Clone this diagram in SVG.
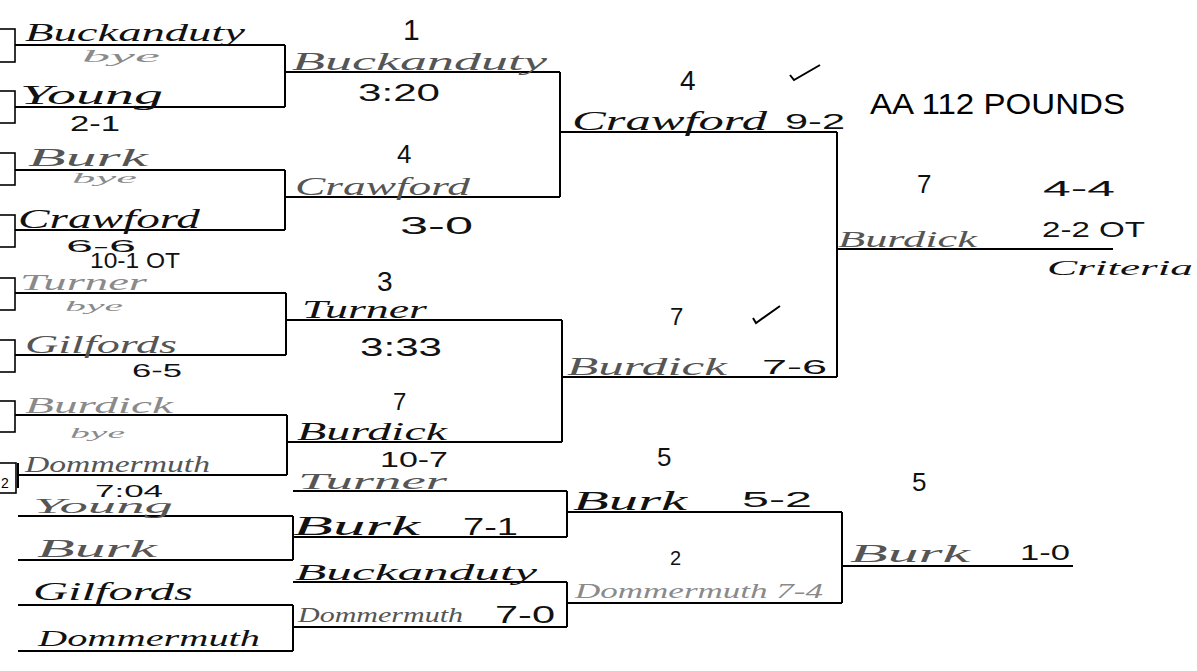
<svg xmlns="http://www.w3.org/2000/svg" width="1197" height="671" viewBox="0 0 1197 671">
<style>
.ln{stroke:#000;stroke-width:2;fill:none}
.bx{stroke:#000;stroke-width:1.6;fill:none}
.h{font-family:"Liberation Serif",serif;font-style:italic;fill:#111}
.f{fill:#8a8a8a}
.m{fill:#555}
.d{font-family:"Liberation Sans",Arial,sans-serif;fill:#111}
.t{font-family:"Liberation Sans",Arial,sans-serif;fill:#000}
</style>
<rect width="1197" height="671" fill="#fff"/>
<g id="boxes">
<rect class="bx" x="-10" y="29" width="25" height="33"/>
<rect class="bx" x="-10" y="91" width="25" height="32"/>
<rect class="bx" x="-10" y="153" width="25" height="32"/>
<rect class="bx" x="-10" y="215" width="25" height="32"/>
<rect class="bx" x="-10" y="278" width="25" height="32"/>
<rect class="bx" x="-10" y="340" width="25" height="32"/>
<rect class="bx" x="-10" y="401" width="25" height="31"/>
<rect class="bx" x="-10" y="463" width="26" height="30"/>
<text class="t" x="1" y="488" font-size="14">2</text>
</g>
<g id="r1-1"><line class="ln" x1="15" y1="45" x2="285" y2="45"/><text class="h" x="25" y="41" font-size="26" textLength="220" lengthAdjust="spacingAndGlyphs">Buckanduty</text><text class="h f" x="82" y="62" font-size="16" textLength="78" lengthAdjust="spacingAndGlyphs">bye</text></g>
<g id="r1-2"><line class="ln" x1="15" y1="107" x2="285" y2="107"/><text class="h" x="20" y="104" font-size="28" textLength="143" lengthAdjust="spacingAndGlyphs">Young</text><text class="d" x="70" y="131" font-size="22" textLength="50" lengthAdjust="spacingAndGlyphs">2-1</text></g>
<g id="r1-3"><line class="ln" x1="15" y1="170" x2="285" y2="170"/><text class="h m" x="28" y="166" font-size="26" textLength="120" lengthAdjust="spacingAndGlyphs">Burk</text><text class="h f" x="72" y="183" font-size="15" textLength="65" lengthAdjust="spacingAndGlyphs">bye</text></g>
<g id="r1-4"><line class="ln" x1="15" y1="230" x2="285" y2="230"/><text class="h" x="18" y="228" font-size="28" textLength="182" lengthAdjust="spacingAndGlyphs">Crawford</text><text class="d" x="66" y="252" font-size="17" textLength="70" lengthAdjust="spacingAndGlyphs">6-6</text><text class="d" x="90" y="268" font-size="22" textLength="90" lengthAdjust="spacingAndGlyphs">10-1 OT</text></g>
<g id="r1-5"><line class="ln" x1="15" y1="293" x2="286" y2="293"/><text class="h f" x="20" y="290" font-size="24" textLength="127" lengthAdjust="spacingAndGlyphs">Turner</text><text class="h f" x="65" y="311" font-size="15" textLength="58" lengthAdjust="spacingAndGlyphs">bye</text></g>
<g id="r1-6"><line class="ln" x1="15" y1="355" x2="286" y2="355"/><text class="h m" x="25" y="353" font-size="26" textLength="152" lengthAdjust="spacingAndGlyphs">Gilfords</text><text class="d m" x="132" y="377" font-size="18" textLength="50" lengthAdjust="spacingAndGlyphs">6-5</text></g>
<g id="r1-7"><line class="ln" x1="15" y1="415" x2="287" y2="415"/><text class="h f" x="25" y="413" font-size="24" textLength="148" lengthAdjust="spacingAndGlyphs">Burdick</text><text class="h f" x="70" y="438" font-size="15" textLength="55" lengthAdjust="spacingAndGlyphs">bye</text></g>
<g id="r1-8"><line class="ln" x1="18" y1="475" x2="287" y2="475"/><line class="ln" x1="18" y1="463" x2="18" y2="488"/><text class="h m" x="25" y="472" font-size="24" textLength="185" lengthAdjust="spacingAndGlyphs">Dommermuth</text></g>
<g id="c1-1"><line class="ln" x1="18" y1="516" x2="293" y2="516"/><text class="d m" x="95" y="497" font-size="16" textLength="68" lengthAdjust="spacingAndGlyphs">7:04</text><text class="h m" x="33" y="513" font-size="22" textLength="140" lengthAdjust="spacingAndGlyphs">Young</text></g>
<g id="c1-2"><line class="ln" x1="18" y1="560" x2="293" y2="560"/><text class="h m" x="37" y="557" font-size="26" textLength="120" lengthAdjust="spacingAndGlyphs">Burk</text></g>
<g id="c1-3"><line class="ln" x1="18" y1="605" x2="293" y2="605"/><text class="h" x="33" y="600" font-size="26" textLength="160" lengthAdjust="spacingAndGlyphs">Gilfords</text></g>
<g id="c1-4"><line class="ln" x1="18" y1="651" x2="293" y2="651"/><text class="h" x="38" y="646" font-size="24" textLength="222" lengthAdjust="spacingAndGlyphs">Dommermuth</text></g>
<g id="r2-1"><line class="ln" x1="285" y1="72" x2="560" y2="72"/><text class="d" x="403" y="40" font-size="30">1</text><text class="h m" x="292" y="70" font-size="26" textLength="255" lengthAdjust="spacingAndGlyphs">Buckanduty</text><text class="d" x="358" y="101" font-size="24" textLength="82" lengthAdjust="spacingAndGlyphs">3:20</text></g>
<g id="r2-2"><line class="ln" x1="285" y1="197" x2="560" y2="197"/><text class="d" x="397" y="163" font-size="26">4</text><text class="h m" x="295" y="195" font-size="26" textLength="175" lengthAdjust="spacingAndGlyphs">Crawford</text><text class="d m" x="400" y="234" font-size="24" textLength="73" lengthAdjust="spacingAndGlyphs">3-0</text></g>
<g id="r2-3"><line class="ln" x1="286" y1="320" x2="562" y2="320"/><text class="d" x="377" y="291" font-size="28">3</text><text class="h" x="302" y="318" font-size="26" textLength="125" lengthAdjust="spacingAndGlyphs">Turner</text><text class="d" x="360" y="356" font-size="26" textLength="82" lengthAdjust="spacingAndGlyphs">3:33</text></g>
<g id="r2-4"><line class="ln" x1="287" y1="442" x2="562" y2="442"/><text class="d" x="393" y="410" font-size="24">7</text><text class="h" x="297" y="440" font-size="26" textLength="150" lengthAdjust="spacingAndGlyphs">Burdick</text><text class="d" x="380" y="467" font-size="22" textLength="68" lengthAdjust="spacingAndGlyphs">10-7</text></g>
<g id="c2-1"><line class="ln" x1="293" y1="491" x2="567" y2="491"/><text class="h m" x="298" y="489" font-size="24" textLength="149" lengthAdjust="spacingAndGlyphs">Turner</text></g>
<g id="c2-2"><line class="ln" x1="293" y1="537" x2="567" y2="537"/><text class="h" x="293" y="535" font-size="28" textLength="127" lengthAdjust="spacingAndGlyphs">Burk</text><text class="d" x="463" y="535" font-size="24" textLength="55" lengthAdjust="spacingAndGlyphs">7-1</text></g>
<g id="c2-3"><line class="ln" x1="293" y1="582" x2="567" y2="582"/><text class="h" x="295" y="580" font-size="24" textLength="242" lengthAdjust="spacingAndGlyphs">Buckanduty</text></g>
<g id="c2-4"><line class="ln" x1="293" y1="627" x2="567" y2="627"/><text class="h m" x="298" y="622" font-size="22" textLength="165" lengthAdjust="spacingAndGlyphs">Dommermuth</text><text class="d" x="495" y="623" font-size="24" textLength="60" lengthAdjust="spacingAndGlyphs">7-0</text></g>
<g id="r3-1"><line class="ln" x1="560" y1="132" x2="837" y2="132"/><text class="d" x="680" y="90" font-size="28">4</text><path class="ln" stroke-width="1.3" d="M790,75 L794,80 L820,65"/><text class="h" x="572" y="130" font-size="28" textLength="195" lengthAdjust="spacingAndGlyphs">Crawford</text><text class="d" x="785" y="129" font-size="22" textLength="60" lengthAdjust="spacingAndGlyphs">9-2</text></g>
<g id="r3-2"><line class="ln" x1="562" y1="377" x2="837" y2="377"/><text class="d" x="670" y="325" font-size="24">7</text><path class="ln" stroke-width="1.2" d="M753,318 L756,323 L780,306"/><text class="h m" x="567" y="375" font-size="26" textLength="160" lengthAdjust="spacingAndGlyphs">Burdick</text><text class="d m" x="762" y="374" font-size="20" textLength="65" lengthAdjust="spacingAndGlyphs">7-6</text></g>
<g id="c3-1"><line class="ln" x1="567" y1="512" x2="842" y2="512"/><text class="d" x="657" y="466" font-size="26">5</text><text class="h" x="573" y="510" font-size="28" textLength="114" lengthAdjust="spacingAndGlyphs">Burk</text><text class="d m" x="742" y="507" font-size="22" textLength="70" lengthAdjust="spacingAndGlyphs">5-2</text></g>
<g id="c3-2"><line class="ln" x1="567" y1="603" x2="842" y2="603"/><text class="d f" x="670" y="565" font-size="20">2</text><text class="h f" x="575" y="598" font-size="20" textLength="248" lengthAdjust="spacingAndGlyphs">Dommermuth 7-4</text></g>
<g id="champion"><line class="ln" x1="837" y1="249" x2="1113" y2="249"/><text class="d" x="917" y="193" font-size="26">7</text><text class="d" x="1043" y="196" font-size="22" textLength="72" lengthAdjust="spacingAndGlyphs">4-4</text><text class="h m" x="838" y="247" font-size="24" textLength="139" lengthAdjust="spacingAndGlyphs">Burdick</text><text class="d" x="1042" y="237" font-size="22" textLength="103" lengthAdjust="spacingAndGlyphs">2-2 OT</text><text class="h" x="1047" y="275" font-size="22" textLength="146" lengthAdjust="spacingAndGlyphs">Criteria</text></g>
<g id="consolation-final"><line class="ln" x1="842" y1="566" x2="1073" y2="566"/><text class="d" x="912" y="491" font-size="26">5</text><text class="h m" x="850" y="562" font-size="26" textLength="120" lengthAdjust="spacingAndGlyphs">Burk</text><text class="d" x="1020" y="560" font-size="22" textLength="50" lengthAdjust="spacingAndGlyphs">1-0</text></g>
<g id="title"><text class="t" x="870" y="114" font-size="30" textLength="255" lengthAdjust="spacingAndGlyphs">AA 112 POUNDS</text></g>
<g id="connectors">
<line class="ln" x1="285" y1="45" x2="285" y2="107"/>
<line class="ln" x1="285" y1="170" x2="285" y2="230"/>
<line class="ln" x1="286" y1="293" x2="286" y2="355"/>
<line class="ln" x1="287" y1="415" x2="287" y2="475"/>
<line class="ln" x1="560" y1="72" x2="560" y2="197"/>
<line class="ln" x1="562" y1="320" x2="562" y2="442"/>
<line class="ln" x1="837" y1="132" x2="837" y2="377"/>
<line class="ln" x1="293" y1="516" x2="293" y2="560"/>
<line class="ln" x1="293" y1="605" x2="293" y2="651"/>
<line class="ln" x1="567" y1="491" x2="567" y2="537"/>
<line class="ln" x1="567" y1="582" x2="567" y2="627"/>
<line class="ln" x1="842" y1="512" x2="842" y2="603"/>
</g>
</svg>
